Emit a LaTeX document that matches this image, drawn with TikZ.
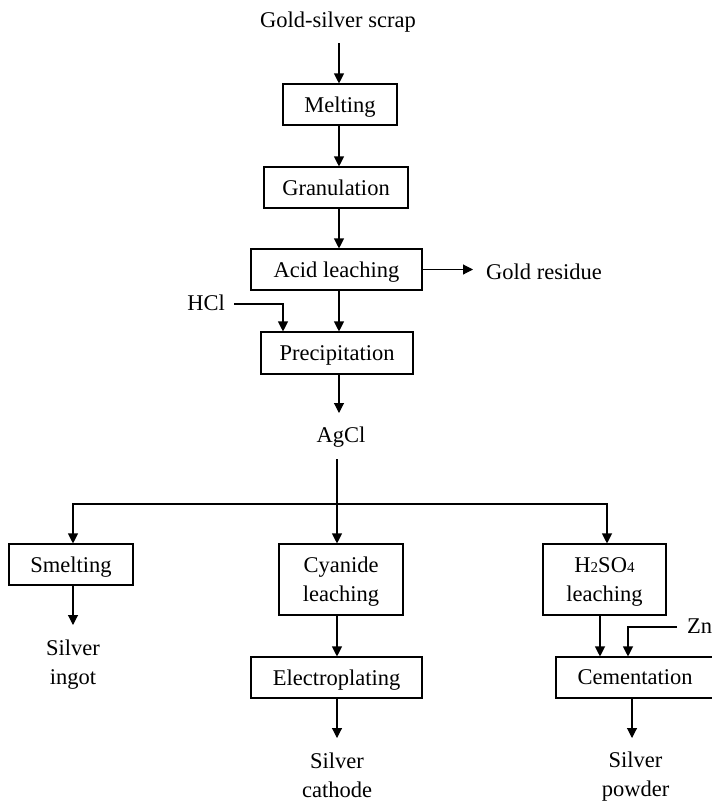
\documentclass[tikz,border=0pt]{standalone}
\usepackage{fontspec}
\setmainfont{Liberation Serif}
\usetikzlibrary{arrows.meta}
\newcommand{\sub}[1]{{\fontsize{15}{15}\selectfont #1}}
\begin{document}
\begin{tikzpicture}[x=1pt,y=-1pt,
  every node/.style={font=\fontsize{22.5}{29}\selectfont, inner sep=0pt},
  procbox/.style={draw, line width=1.1pt, align=center, text depth=0pt},
  label/.style={align=center},
  flow/.style={line width=1.1pt, -{Triangle[length=10pt,width=10pt]}},
  feed/.style={line width=1.1pt}]
\useasboundingbox (0,0) rectangle (712,801);

% main stream
\node[label] (scrap) at (338,22) {Gold-silver scrap};
\node[procbox, minimum width=114pt, minimum height=41pt] (melt) at (340,104.5) {Melting};
\node[procbox, minimum width=144pt, minimum height=41pt] (gran) at (336,187.5) {Granulation};
\node[procbox, minimum width=171pt, minimum height=41pt] (acid) at (336.5,269.5) {Acid leaching};
\node[procbox, minimum width=152pt, minimum height=42pt] (prec) at (337,353) {Precipitation};
\node[label, anchor=west] (gold) at (486,272) {Gold residue};
\node[label, anchor=east] (hcl) at (225,303) {HCl};
\node[label] (agcl) at (341,437) {AgCl};

% three silver routes
\node[procbox, minimum width=124pt, minimum height=41pt] (smelt) at (71,564.5) {Smelting};
\node[procbox, minimum width=124pt, minimum height=71pt] (cyan) at (341,579.5) {Cyanide\\leaching};
\node[procbox, minimum width=123pt, minimum height=71pt] (sulf) at (604.5,579.5) {H\sub{2}SO\sub{4}\\leaching};
\node[procbox, minimum width=171pt, minimum height=41pt] (elec) at (336.5,677.5) {Electroplating};
\node[procbox, minimum width=158pt, minimum height=41pt] (cem) at (635,677.5) {Cementation};
\node[label, anchor=west] (zn) at (687,626) {Zn};
\node[label] (ingot) at (73,665) {Silver\\ingot};
\node[label] (cath) at (337,775) {Silver\\cathode};
\node[label] (powd) at (635.5,777) {Silver\\powder};

% helper coordinates for connector columns
\coordinate (sx) at (339,0);
\coordinate (ax) at (337,0);
\coordinate (hx) at (283,0);
\coordinate (bus) at (0,504);
\coordinate (sy) at (600,0);
\coordinate (zx) at (628,0);
\coordinate (cx) at (632,0);
\coordinate (smx) at (73,0);
\coordinate (h2x) at (607,0);

\draw[flow] (sx |- 0,43) -- (melt.north -| sx);
\draw[flow] (melt.south -| sx) -- (gran.north -| sx);
\draw[flow] (gran.south -| sx) -- (acid.north -| sx);
\draw[flow] (acid.south -| sx) -- (prec.north -| sx);
\draw[flow] (acid.east) -- (473,0 |- acid.east);
\draw[flow] (hcl.east) ++(9,1) -| (prec.north -| hx);
\draw[flow] (prec.south -| sx) -- (sx |- 0,413);

% split of AgCl into three routes
\draw[flow] (ax |- 0,459) -- (cyan.north -| ax);
\draw[flow] (bus -| ax) -- (bus -| smx) -- (smelt.north -| smx);
\draw[flow] (bus -| ax) -- (bus -| h2x) -- (sulf.north -| h2x);

\draw[flow] (smelt.south -| smx) -- (smx |- 0,625);
\draw[flow] (cyan.south -| ax) -- (elec.north -| ax);
\draw[flow] (elec.south -| ax) -- (ax |- 0,738);
\draw[flow] (sulf.south -| sy) -- (cem.north -| sy);
\draw[flow] (677,627) -| (cem.north -| zx);
\draw[flow] (cem.south -| cx) -- (cx |- 0,738);
\end{tikzpicture}
\end{document}
